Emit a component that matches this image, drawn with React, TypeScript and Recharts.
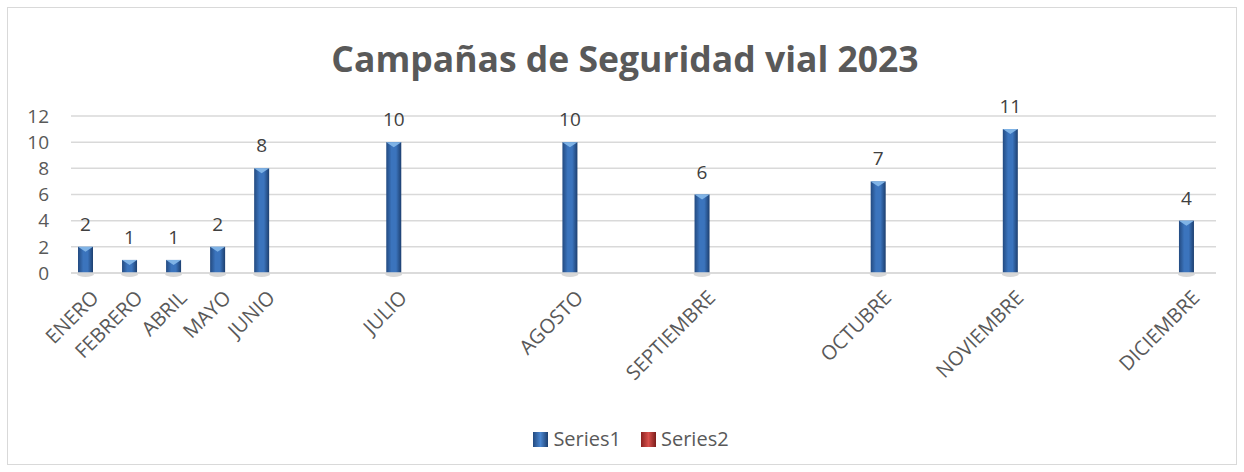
import { BarChart, Bar, XAxis, YAxis, CartesianGrid, LabelList } from "recharts";

// ── Data (blank rows in the sheet keep their empty slot on the axis) ──
const months = [
  "ENERO", "FEBRERO", "ABRIL", "MAYO", "JUNIO", "", "", "JULIO", "", "", "",
  "AGOSTO", "", "", "SEPTIEMBRE", "", "", "", "OCTUBRE", "", "", "NOVIEMBRE",
  "", "", "", "DICIEMBRE",
];
const series1 = [
  2, 1, 1, 2, 8, null, null, 10, null, null, null,
  10, null, null, 6, null, null, null, 7, null, null, 11,
  null, null, null, 4,
];
const series2 = months.map(() => null as number | null);
const yTicks = [0, 2, 4, 6, 8, 10, 12];

const data = months.map((m, i) => ({ slot: i, month: m, s1: series1[i], s2: series2[i] }));

const FONT = "'Open Sans', sans-serif";
const AXIS_TEXT = "#595959";

// ── Bar with bevelled top and soft shadow ──
const BevelBar = (props: any) => {
  const { x, y, width, height } = props;
  if (height == null || height <= 0) return null;
  return (
    <g>
      <ellipse cx={x + width / 2} cy={y + height + 1} rx={width / 2 + 1} ry={3} fill="#c8c8c8" opacity={0.7} />
      <rect x={x} y={y} width={width} height={height} fill="url(#s1Grad)" />
      <polygon
        points={`${x},${y} ${x + width},${y} ${x + width / 2},${y + 5}`}
        fill="#7fb3e6"
      />
    </g>
  );
};

const MonthTick = ({ x, y, payload }: any) => {
  const label = months[payload.value];
  if (!label) return null;
  return (
    <g transform={`translate(${x + 7},${y + 24})`}>
      <text transform="rotate(-45)" textAnchor="end" fill={AXIS_TEXT} fontSize={20} fontFamily={FONT}>
        {label}
      </text>
    </g>
  );
};

const LegendSwatch = ({ from, mid, to }: { from: string; mid: string; to: string }) => (
  <span
    style={{
      display: "inline-block",
      width: 15,
      height: 15,
      background: `linear-gradient(90deg, ${from}, ${mid}, ${to})`,
      marginRight: 5,
      verticalAlign: -1,
    }}
  />
);

export default function App() {
  return (
    <div style={{ position: "absolute", left: 0, top: 0, width: 1244, height: 472, background: "#fff", fontFamily: FONT }}>
      {/* chart frame */}
      <div style={{ position: "absolute", left: 7, top: 7, width: 1228, height: 456, border: "1px solid #d9d9d9" }} />

      <div
        style={{
          position: "absolute", left: 0, top: 36, width: 1250, textAlign: "center",
          fontSize: 35.5, fontWeight: 700, color: "#595959", lineHeight: "44px",
        }}
      >
        Campañas de Seguridad vial 2023
      </div>

      <div style={{ position: "absolute", left: 0, top: 0 }}>
        <BarChart
          width={1244}
          height={472}
          data={data}
          margin={{ top: 116, right: 28, bottom: 79, left: 0 }}
          barGap={0}
          barSize={15}
        >
          <defs>
            <linearGradient id="s1Grad" x1="0" y1="0" x2="1" y2="0">
              <stop offset="0%" stopColor="#234a80" />
              <stop offset="35%" stopColor="#3b74bd" />
              <stop offset="65%" stopColor="#3b74bd" />
              <stop offset="100%" stopColor="#1d3f6f" />
            </linearGradient>
          </defs>
          <CartesianGrid vertical={false} stroke="#d9d9d9" strokeWidth={1.5} />
          <XAxis
            dataKey="slot"
            interval={0}
            tick={<MonthTick />}
            tickLine={false}
            tickSize={0}
            axisLine={{ stroke: "#d9d9d9", strokeWidth: 1.5 }}
            height={120}
          />
          <YAxis
            domain={[0, 12]}
            ticks={yTicks}
            interval={0}
            width={71}
            axisLine={false}
            tickLine={false}
            tickSize={0}
            tickMargin={22}
            tick={{ fill: AXIS_TEXT, fontSize: 19, fontFamily: FONT }}
          />
          <Bar dataKey="s1" name="Series1" shape={<BevelBar />} isAnimationActive={false}>
            <LabelList dataKey="s1" position="top" offset={16} fill="#404040" fontSize={19} fontFamily={FONT} />
          </Bar>
          <Bar dataKey="s2" name="Series2" fill="#c0504d" isAnimationActive={false} />
        </BarChart>
      </div>

      {/* legend */}
      <div
        style={{
          position: "absolute", left: 0, top: 426, width: 1262, textAlign: "center",
          fontSize: 20, color: AXIS_TEXT, lineHeight: "26px",
        }}
      >
        <LegendSwatch from="#234a80" mid="#4a86d0" to="#1d3f6f" />
        <span style={{ marginRight: 20 }}>Series1</span>
        <LegendSwatch from="#8a2220" mid="#d9504c" to="#7a1d1b" />
        <span>Series2</span>
      </div>
    </div>
  );
}
